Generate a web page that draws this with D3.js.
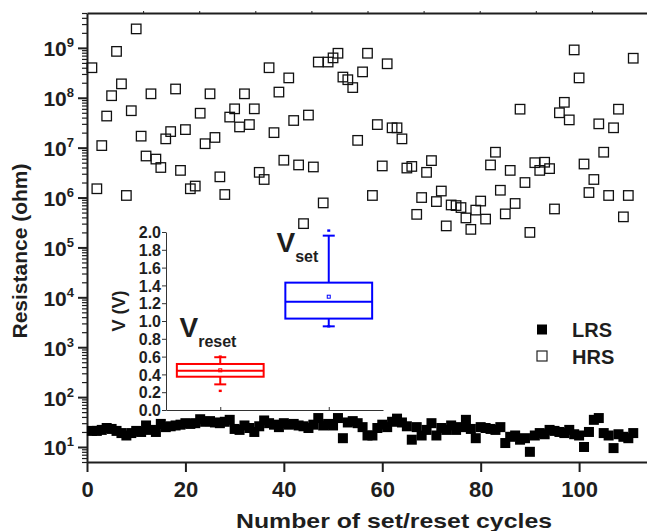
<!DOCTYPE html>
<html>
<head>
<meta charset="utf-8">
<script src="https://cdn.jsdelivr.net/npm/d3@7/dist/d3.min.js"></script>
<style>
  body { margin: 0; background: #fff; }
  svg { display: block; font-family: Arial, "Liberation Sans", sans-serif; font-weight: bold; }
</style>
</head>
<body>
<svg id="chart" width="647" height="531"></svg>
<script>
// cycle index (1..111)
const cycles = d3.range(1, 112)

// HRS resistance (ohm), one value per cycle
const hrs = [
  4.0e8, 1.5e6, 1.1e7, 4.3e7, 1.1e8, 8.5e8, 1.9e8, 1.1e6, 5.5e7, 2.4e9,
  1.7e7, 6.8e6, 1.2e8, 5.9e6, 4.0e6, 1.5e7, 2.1e7, 1.5e8, 3.5e6, 2.3e7,
  1.5e6, 1.7e6, 4.9e7, 1.2e7, 1.2e8, 1.6e7, 2.6e6, 1.15e6, 4.1e7, 6.0e7,
  2.6e7, 1.2e8, 2.9e7, 6.0e7, 3.2e6, 2.3e6, 4.0e8, 2.0e7, 1.3e8, 5.6e6,
  2.5e8, 3.5e7, 4.5e6, 3.0e5, 4.5e7, 4.1e6, 5.2e8, 7.8e5, 5.2e8, 6.3e8,
  7.8e8, 2.6e8, 2.3e8, 1.6e8, 1.4e7, 3.3e8, 7.8e8, 1.1e6, 2.9e7, 4.3e6,
  4.8e8, 2.5e7, 2.5e7, 1.5e7, 3.9e6, 4.2e6, 4.6e5, 1.0e6, 3.2e6, 5.5e6,
  8.3e5, 1.35e6, 2.7e5, 7.1e5, 6.9e5, 6.3e5, 3.9e5, 2.3e5, 5.6e5, 8.5e5,
  3.7e5, 4.5e6, 8.1e6, 1.4e6, 4.7e5, 3.5e6, 7.6e5, 5.9e7, 2.0e6, 2.0e5,
  5.0e6, 3.5e6, 5.1e6, 3.8e6, 5.9e5, 5.0e7, 8.1e7, 3.6e7, 9.1e8, 2.5e8,
  4.7e6, 1.26e6, 2.3e6, 3.0e7, 8.1e6, 1.1e6, 2.5e7, 5.9e7, 4.1e5, 1.1e6,
  6.2e8
]

// LRS resistance (ohm), one value per cycle
const lrs = [
  21, 21, 22, 24, 23, 21, 19, 17, 19, 21,
  20, 27, 22, 20, 29, 25, 26, 27, 28, 30,
  29, 30, 36, 32, 33, 31, 30, 32, 35, 23,
  22, 27, 24, 20, 26, 34, 30, 28, 25, 30,
  28, 29, 27, 26, 24, 28, 38, 27, 29, 27,
  38, 15, 31, 33, 30, 25, 17, 17, 24, 28,
  25, 32, 37, 31, 26, 14, 25, 17, 22, 30,
  17, 24, 22, 27, 22, 25, 35, 23, 15, 25,
  24, 23, 22, 25, 12, 16, 17, 14, 15, 8,
  17, 19, 18, 22, 21, 20, 19, 22, 18, 17,
  10, 20, 35, 38, 19, 17, 9.5, 18, 16, 15,
  19
]

const xTicks = [0, 20, 40, 60, 80, 100]
const yExponents = [1, 2, 3, 4, 5, 6, 7, 8, 9]
const topTicks = [1, 2, 3, 4, 5, 6, 7, 8, 9]

// inset box plot (switching voltages)
const boxNames = ['reset', 'set']
const boxColors = ['#ff0000', '#0000ff']
const boxQ1 = [0.374, 1.027]
const boxMedian = [0.442, 1.216]
const boxQ3 = [0.517, 1.431]
const boxMean = [0.446, 1.273]
const whiskerLow = [0.288, 0.94]
const whiskerHigh = [0.593, 1.959]
const boxMin = [0.215, 0.94]
const boxMax = [0.60, 2.016]
const insetTicks = [0, 0.2, 0.4, 0.6, 0.8, 1.0, 1.2, 1.4, 1.6, 1.8, 2.0]

const legendNames = ['LRS', 'HRS']

const svg = d3.select('#chart')
const ink = '#1e1e1e'

let plotLeft = 87, plotRight = 648, plotTop = 13, plotBottom = 462

let x = d3.scaleLinear().domain([0, 114]).range([plotLeft, plotRight])
let xTop = d3.scaleLinear().domain([0, 10]).range([plotLeft, plotRight])
let y = d3.scaleLog().domain([5, 5e9]).range([plotBottom, plotTop])

// frame: top line with its small ticks
let topAxis = svg.append('g')
    .attr('transform', 'translate(0,' + plotTop + ')')
    .call(d3.axisTop(xTop).tickValues(topTicks).tickSize(2).tickSizeOuter(0).tickFormat(''))
topAxis.select('.domain').attr('stroke', ink).attr('stroke-width', 2)
topAxis.selectAll('.tick line').attr('stroke', ink)

// bottom axis
let xAxis = svg.append('g')
    .attr('transform', 'translate(0,' + plotBottom + ')')
    .call(d3.axisBottom(x).tickValues(xTicks).tickSize(10).tickSizeOuter(0).tickFormat(d3.format('d')))
xAxis.select('.domain').attr('stroke', ink).attr('stroke-width', 2)
xAxis.selectAll('.tick line').attr('stroke', ink).attr('stroke-width', 2)
xAxis.selectAll('.tick text')
    .attr('y', 19)
    .attr('dy', '0.71em')
    .style('font-size', '22px')
    .style('font-weight', 'bold')
    .attr('fill', ink)

// left log axis, minor ticks then major ticks
let minorTicks = y.ticks().filter(d => Math.abs(Math.log10(d) - Math.round(Math.log10(d))) > 1e-6)
let yMinor = svg.append('g')
    .attr('transform', 'translate(' + plotLeft + ',0)')
    .call(d3.axisLeft(y).tickValues(minorTicks).tickSize(5).tickSizeOuter(0).tickFormat(''))
yMinor.select('.domain').attr('stroke', ink).attr('stroke-width', 2)
yMinor.selectAll('.tick line').attr('stroke', ink).attr('stroke-width', 1.2)

let yMajor = svg.append('g')
    .attr('transform', 'translate(' + plotLeft + ',0)')
    .call(d3.axisLeft(y).tickValues(yExponents.map(e => Math.pow(10, e))).tickSize(9).tickSizeOuter(0).tickFormat(''))
yMajor.select('.domain').remove()
yMajor.selectAll('.tick line').attr('stroke', ink).attr('stroke-width', 2)

let yLabels = svg.append('g')
yExponents.forEach(e => {
  let t = yLabels.append('text')
      .attr('x', 74)
      .attr('y', y(Math.pow(10, e)) + 8.5)
      .attr('text-anchor', 'end')
      .attr('fill', ink)
  t.append('tspan').style('font-size', '21px').text('10')
  t.append('tspan').style('font-size', '13px').attr('dy', -9).text(e)
})

// axis titles
svg.append('text')
    .attr('transform', 'translate(27,251) rotate(-90)')
    .attr('text-anchor', 'middle')
    .attr('fill', ink)
    .style('font-size', '21px')
    .text('Resistance (ohm)')

svg.append('text')
    .attr('x', 394)
    .attr('y', 528)
    .attr('text-anchor', 'middle')
    .attr('fill', ink)
    .attr('textLength', 316)
    .attr('lengthAdjust', 'spacingAndGlyphs')
    .style('font-size', '21px')
    .text('Number of set/reset cycles')

// HRS hollow squares
let sq = 9.5
svg.append('g').attr('id', 'hrs')
  .selectAll('rect')
  .data(cycles)
  .enter().append('rect')
    .attr('x', (d, i) => x(d) - sq / 2)
    .attr('y', (d, i) => y(hrs[i]) - sq / 2)
    .attr('width', sq)
    .attr('height', sq)
    .attr('fill', 'none')
    .attr('stroke', '#111')
    .attr('stroke-width', 1.3)

// LRS filled squares
let sqL = 10
svg.append('g').attr('id', 'lrs')
  .selectAll('rect')
  .data(cycles)
  .enter().append('rect')
    .attr('x', (d, i) => x(d) - sqL / 2)
    .attr('y', (d, i) => y(lrs[i]) - sqL / 2)
    .attr('width', sqL)
    .attr('height', sqL)
    .attr('fill', '#000')

// legend
let legend = svg.append('g').attr('id', 'legend')
legendNames.forEach((name, i) => {
  let cy = 329.5 + i * 26.5
  legend.append('rect')
      .attr('x', 537)
      .attr('y', cy - 5)
      .attr('width', 10)
      .attr('height', 10)
      .attr('fill', i === 0 ? '#000' : 'none')
      .attr('stroke', i === 0 ? 'none' : '#222')
      .attr('stroke-width', 1.2)
  legend.append('text')
      .attr('x', 572)
      .attr('y', cy + 7.5)
      .attr('fill', ink)
      .style('font-size', '20px')
      .text(name)
})

// inset
let iLeft = 166, iRight = 383, iTop = 232, iBottom = 410
let xi = d3.scalePoint().domain(boxNames).range([iLeft, iRight]).padding(0.5)
let yi = d3.scaleLinear().domain([0, 2]).range([iBottom, iTop])

let inset = svg.append('g').attr('id', 'inset')

let iyAxis = inset.append('g')
    .attr('transform', 'translate(' + iLeft + ',0)')
    .call(d3.axisLeft(yi).tickValues(insetTicks).tickSize(4).tickSizeOuter(0).tickFormat(d3.format('.1f')))
iyAxis.select('.domain').attr('stroke', '#333').attr('stroke-width', 1)
iyAxis.selectAll('.tick line').attr('stroke', '#333')
iyAxis.selectAll('.tick text')
    .attr('x', -5)
    .attr('dy', '0.36em')
    .attr('fill', ink)
    .style('font-size', '16px')
    .style('font-weight', 'bold')

let ixAxis = inset.append('g')
    .attr('transform', 'translate(0,' + iBottom + ')')
    .call(d3.axisTop(xi).tickSize(3).tickSizeOuter(0).tickFormat(''))
ixAxis.select('.domain').attr('stroke', '#333').attr('stroke-width', 1)
ixAxis.selectAll('.tick line').attr('stroke', '#333')

inset.append('text')
    .attr('transform', 'translate(125,311) rotate(-90)')
    .attr('text-anchor', 'middle')
    .attr('fill', ink)
    .style('font-size', '18px')
    .text('V (V)')

let boxW = xi.step() * 0.8, capW = 12
boxNames.forEach((name, i) => {
  let cx = xi(name), c = boxColors[i]
  let g = inset.append('g').attr('stroke', c).attr('stroke-width', 2).attr('fill', 'none')
  // whiskers
  g.append('line').attr('x1', cx).attr('x2', cx).attr('y1', yi(boxQ3[i])).attr('y2', yi(whiskerHigh[i]))
  g.append('line').attr('x1', cx).attr('x2', cx).attr('y1', yi(boxQ1[i])).attr('y2', yi(whiskerLow[i]))
  g.append('line').attr('x1', cx - capW / 2).attr('x2', cx + capW / 2).attr('y1', yi(whiskerHigh[i])).attr('y2', yi(whiskerHigh[i]))
  g.append('line').attr('x1', cx - capW / 2).attr('x2', cx + capW / 2).attr('y1', yi(whiskerLow[i])).attr('y2', yi(whiskerLow[i]))
  // box and median
  g.append('rect')
      .attr('x', cx - boxW / 2)
      .attr('y', yi(boxQ3[i]))
      .attr('width', boxW)
      .attr('height', yi(boxQ1[i]) - yi(boxQ3[i]))
  g.append('line').attr('x1', cx - boxW / 2).attr('x2', cx + boxW / 2).attr('y1', yi(boxMedian[i])).attr('y2', yi(boxMedian[i]))
  // mean, min, max markers
  g.append('rect').attr('x', cx - 1.5).attr('y', yi(boxMean[i]) - 1.5).attr('width', 3).attr('height', 3).attr('stroke-width', 1)
  inset.append('rect').attr('x', cx - 1.5).attr('y', yi(boxMin[i]) - 1.2).attr('width', 3).attr('height', 2.4).attr('fill', c)
  inset.append('rect').attr('x', cx - 1.5).attr('y', yi(boxMax[i]) - 1.2).attr('width', 3).attr('height', 2.4).attr('fill', c)
})

// V_set and V_reset labels
function vLabel(xPos, yPos, sub) {
  let t = inset.append('text').attr('x', xPos).attr('y', yPos).attr('fill', ink)
  t.append('tspan').style('font-size', '28px').text('V')
  t.append('tspan').style('font-size', '16px').attr('dy', 10).text(sub)
}
vLabel(276.5, 251.5, 'set')
vLabel(179.5, 336.5, 'reset')
</script>
</body>
</html>
